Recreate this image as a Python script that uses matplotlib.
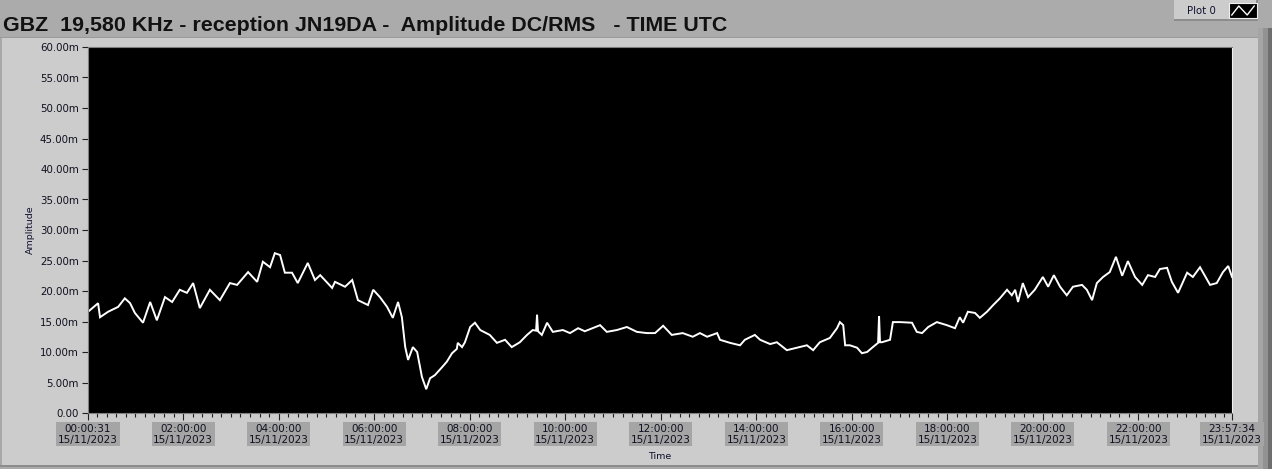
import matplotlib
matplotlib.use("Agg")
import matplotlib.pyplot as plt
from matplotlib.patches import Rectangle
from matplotlib.ticker import FixedLocator, MultipleLocator

# GBZ 19.58 kHz amplitude, 15/11/2023 -- time in hours UTC, amplitude in mV
hours = [0.01, 0.22, 0.26, 0.43, 0.64, 0.78, 0.89, 0.99, 1.16, 1.31, 1.45, 1.62,
         1.77, 1.93, 2.08, 2.21, 2.35, 2.56, 2.77, 2.98, 3.13, 3.36, 3.55, 3.67,
         3.82, 3.92, 4.03, 4.13, 4.28, 4.40, 4.61, 4.76, 4.87, 5.12, 5.18, 5.39,
         5.54, 5.66, 5.87, 5.98, 6.12, 6.27, 6.39, 6.50, 6.58, 6.65, 6.71, 6.81,
         6.90, 7.00, 7.09, 7.17, 7.27, 7.42, 7.52, 7.63, 7.73, 7.75, 7.84, 7.90,
         8.01, 8.11, 8.22, 8.42, 8.57, 8.74, 8.88, 9.05, 9.20, 9.32, 9.39, 9.41,
         9.43, 9.51, 9.62, 9.74, 9.95, 10.10, 10.27, 10.41, 10.73, 10.87, 11.08,
         11.29, 11.50, 11.71, 11.88, 12.05, 12.23, 12.46, 12.67, 12.82, 12.97,
         13.18, 13.24, 13.45, 13.66, 13.76, 13.97, 14.08, 14.29, 14.43, 14.64,
         14.85, 15.06, 15.19, 15.33, 15.54, 15.69, 15.75, 15.82, 15.86, 15.96,
         16.11, 16.21, 16.32, 16.44, 16.55, 16.57, 16.59, 16.63, 16.80, 16.86,
         17.01, 17.26, 17.36, 17.47, 17.60, 17.78, 17.99, 18.16, 18.26, 18.33,
         18.43, 18.58, 18.68, 18.83, 18.96, 19.10, 19.25, 19.35, 19.42, 19.48,
         19.58, 19.69, 19.83, 20.00, 20.11, 20.23, 20.36, 20.50, 20.63, 20.82,
         20.92, 21.03, 21.13, 21.26, 21.40, 21.53, 21.66, 21.78, 21.93, 22.08,
         22.20, 22.35, 22.45, 22.60, 22.70, 22.83, 23.02, 23.14, 23.29, 23.50,
         23.64, 23.77, 23.88, 23.96]
amp_mv = [16.6, 18.0, 15.7, 16.6, 17.4, 18.8, 18.0, 16.4, 14.8, 18.2, 15.2, 19.0,
          18.2, 20.2, 19.7, 21.3, 17.2, 20.2, 18.5, 21.3, 21.0, 23.1, 21.5, 24.8,
          23.9, 26.2, 25.9, 23.0, 23.0, 21.3, 24.6, 21.8, 22.6, 20.5, 21.5, 20.7,
          21.8, 18.5, 17.7, 20.2, 19.0, 17.4, 15.6, 18.2, 15.7, 10.8, 8.7, 10.8,
          10.0, 5.9, 3.9, 5.7, 6.2, 7.5, 8.4, 9.8, 10.5, 11.5, 10.8, 11.6,
          14.1, 14.8, 13.6, 12.8, 11.5, 12.0, 10.8, 11.6, 12.8, 13.6, 13.5, 16.1,
          13.4, 12.8, 14.8, 13.3, 13.6, 13.1, 13.9, 13.4, 14.4, 13.3, 13.6,
          14.1, 13.3, 13.1, 13.1, 14.3, 12.8, 13.1, 12.5, 13.1, 12.5,
          13.1, 12.0, 11.5, 11.1, 12.0, 12.8, 12.0, 11.3, 11.6, 10.3,
          10.7, 11.1, 10.3, 11.6, 12.3, 13.9, 14.9, 14.4, 11.1, 11.1,
          10.7, 9.8, 10.0, 10.8, 11.5, 15.9, 11.6, 11.6, 12.0, 14.9,
          14.9, 14.8, 13.3, 13.1, 14.1, 14.9, 14.4, 13.9, 15.7, 14.8,
          16.6, 16.4, 15.6, 16.6, 17.7, 18.8, 20.2, 19.3, 20.2, 18.2,
          21.3, 19.0, 20.2, 22.3, 20.7, 22.6, 20.7, 19.3, 20.7, 21.0,
          20.2, 18.5, 21.3, 22.3, 23.1, 25.6, 22.5, 24.9, 22.3, 21.0,
          22.6, 22.3, 23.6, 23.8, 21.5, 19.7, 23.0, 22.3, 23.9, 21.0,
          21.3, 23.1, 24.1, 22.3]

t_start = 31 / 3600
t_end = 23 + 57 / 60 + 34 / 3600
tick_hours = [t_start, 2, 4, 6, 8, 10, 12, 14, 16, 18, 20, 22, t_end]
tick_times = ["00:00:31", "02:00:00", "04:00:00", "06:00:00", "08:00:00",
              "10:00:00", "12:00:00", "14:00:00", "16:00:00", "18:00:00",
              "20:00:00", "22:00:00", "23:57:34"]
tick_date = "15/11/2023"
y_ticks = [0, 5, 10, 15, 20, 25, 30, 35, 40, 45, 50, 55, 60]
y_labels = ["0.00"] + ["%.2fm" % v for v in y_ticks[1:]]

title = "GBZ  19,580 KHz - reception JN19DA -  Amplitude DC/RMS   - TIME UTC"

W, H = 1272, 469
fig = plt.figure(figsize=(W / 100, H / 100), dpi=100, facecolor="#ababab")

def px_rect(x0, y0, x1, y1, color):
    # rectangle in pixel coords (origin top-left), drawn behind the axes
    fig.patches.append(Rectangle((x0 / W, 1 - y1 / H), (x1 - x0) / W, (y1 - y0) / H,
                                 transform=fig.transFigure, facecolor=color,
                                 edgecolor="none", zorder=-5))

# graph panel and frame
px_rect(0, 37, 1258, 466, "#cccccc")
px_rect(0, 37, 1258, 38, "#9a9a9a")
px_rect(0, 38, 2, 466, "#a8a8a8")
px_rect(0, 465, 1258, 467, "#8c8c8c")
px_rect(1258, 28, 1263, 469, "#a5a5a5")
px_rect(1263, 28, 1268, 469, "#929292")
px_rect(1268, 28, 1272, 469, "#6e6e6e")

# legend box
px_rect(1174, 0, 1258, 20, "#cccccc")
px_rect(1174, 19, 1258, 21, "#8c8c8c")
px_rect(1256, 0, 1258, 21, "#8c8c8c")
fig.text(1187 / W, 1 - 11 / H, "Plot 0", fontsize=7.3, color="#101030",
         va="center", ha="left")
icon = fig.add_axes([1229 / W, 1 - 18 / H, 28 / W, 15 / H])
icon.set_facecolor("black")
icon.plot([0.1, 0.35, 0.65, 0.9], [0.2, 0.8, 0.2, 0.8], color="white", lw=1)
icon.set_xlim(0, 1)
icon.set_ylim(0, 1)
icon.set_xticks([])
icon.set_yticks([])
for s in icon.spines.values():
    s.set_color("#eeeeee")

fig.text(3 / W, 1 - 31 / H, title, fontsize=15.4, fontweight="bold",
         family=["Liberation Sans", "DejaVu Sans"], color="#111111", va="baseline")

ax = fig.add_axes([88 / W, 1 - 413 / H, (1232 - 88) / W, (413 - 47) / H])
ax.set_facecolor("black")
ax.plot(hours, amp_mv, color="white", lw=1.4, solid_joinstyle="miter")
ax.set_xlim(t_start, t_end)
ax.set_ylim(0, 60)

ax.xaxis.set_major_locator(FixedLocator(tick_hours))
ax.set_xticklabels([t + "\n" + tick_date for t in tick_times])
ax.xaxis.set_minor_locator(MultipleLocator(0.2))
ax.set_yticks(y_ticks)
ax.set_yticklabels(y_labels)

ax.tick_params(axis="x", which="major", length=5, width=0.8, color="#202020",
               labelsize=7.5, labelcolor="#101020", pad=3)
ax.tick_params(axis="x", which="minor", length=3, width=0.8, color="#202020")
ax.tick_params(axis="y", length=4.5, width=0.8, color="#202020",
               labelsize=7.4, labelcolor="#101020", pad=2)
for lab in ax.get_xticklabels():
    lab.set_linespacing(1.05)
    lab.set_bbox(dict(facecolor="#a5a5a5", edgecolor="none", pad=1.2))

for s in ax.spines.values():
    s.set_color("#808080")
ax.spines["right"].set_color("#f0f0f0")

ax.set_ylabel("Amplitude", fontsize=6.8, color="#101030")
ax.yaxis.set_label_coords(-53 / 1144, 0.5)
ax.set_xlabel("Time", fontsize=6.8, color="#101030")
ax.xaxis.set_label_coords(0.5, -(456 - 413) / 366)
ax.xaxis.label.set_va("center")

fig.savefig("out.png", dpi=100, facecolor=fig.get_facecolor())
